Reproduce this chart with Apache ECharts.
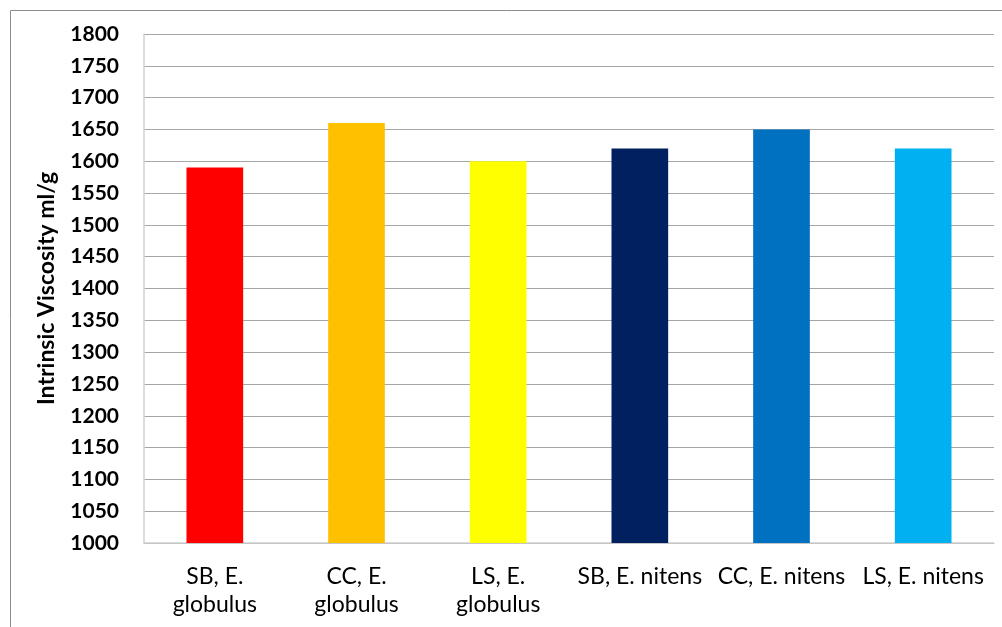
<!DOCTYPE html>
<html>
<head>
<meta charset="utf-8">
<script src="https://cdn.jsdelivr.net/npm/echarts@6/dist/echarts.min.js"></script>
<style>
html, body { margin: 0; padding: 0; background: #fff; }
#chart { width: 1002px; height: 627px; }
</style>
</head>
<body>
<div id="chart"></div>
<script>
// 数据
var categories = ['SB, E.\nglobulus', 'CC, E.\nglobulus', 'LS, E.\nglobulus', 'SB, E. nitens', 'CC, E. nitens', 'LS, E. nitens'];
var viscosity = [1590, 1660, 1600, 1620, 1650, 1620];
var barColors = ['#FF0000', '#FFC000', '#FFFF00', '#002060', '#0070C0', '#00B0F0'];

var myChart = echarts.init(document.getElementById('chart'));

var option = {
    animation: false,
    graphic: [{
        type: 'rect',
        shape: { x: 10.5, y: 10.5, width: 1000, height: 640 },
        style: { fill: 'none', stroke: '#8c8c8c', lineWidth: 1 }
    }],
    grid: {
        left: 144,
        top: 34,
        right: 8,
        bottom: 84
    },
    xAxis: {
        type: 'category',
        data: categories,
        axisLine: { lineStyle: { color: '#d0d0d0', width: 1.5 } },
        axisTick: { show: false },
        axisLabel: {
            color: '#000',
            fontFamily: 'Lato, "Open Sans", sans-serif',
            fontSize: 23,
            lineHeight: 28,
            margin: 20,
            interval: 0
        }
    },
    yAxis: {
        type: 'value',
        min: 1000,
        max: 1800,
        interval: 50,
        name: 'Intrinsic Viscosity ml/g',
        nameLocation: 'middle',
        nameGap: 86,
        nameTextStyle: {
            color: '#000',
            fontFamily: 'Lato, "Open Sans", sans-serif',
            fontWeight: 'bold',
            fontSize: 23
        },
        axisLine: { show: true, lineStyle: { color: '#d0d0d0', width: 1.5 } },
        axisTick: { show: false },
        axisLabel: {
            color: '#000',
            fontFamily: 'Lato, "Open Sans", sans-serif',
            fontWeight: 'bold',
            fontSize: 21,
            margin: 25,
            formatter: function(v) { return String(v); }
        },
        splitLine: { lineStyle: { color: '#a6a6a6', width: 1 } }
    },
    series: [{
        type: 'bar',
        barWidth: '40%',
        data: viscosity.map(function(v, i) {
            return { value: v, itemStyle: { color: barColors[i] } };
        })
    }]
};

myChart.setOption(option);
</script>
</body>
</html>
